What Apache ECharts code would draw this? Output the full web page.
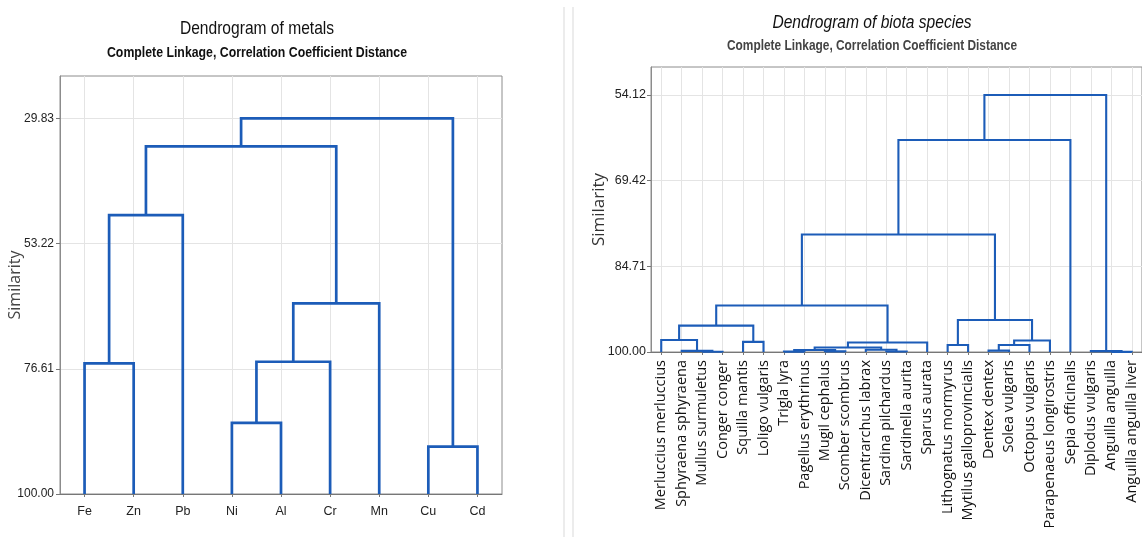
<!DOCTYPE html>
<html>
<head>
<meta charset="utf-8">
<script src="https://cdn.jsdelivr.net/npm/echarts@6/dist/echarts.min.js"></script>
<style>
  html, body { margin: 0; padding: 0; background: #ffffff; }
  #chart { width: 1142px; height: 537px; }
</style>
</head>
<body>
<div id="chart"></div>
<script>
// ---------- DATA ----------
// Metals dendrogram: leaf order and merges [nodeA, nodeB, similarity]
// (leaves are nodes 0..n-1, the k-th merge creates node n+k)
const metalLeaves = ['Fe', 'Zn', 'Pb', 'Ni', 'Al', 'Cr', 'Mn', 'Cu', 'Cd'];
const metalMerges = [
  [0, 1, 75.6],    // 9  Fe-Zn
  [9, 2, 47.9],    // 10 +Pb
  [3, 4, 86.7],    // 11 Ni-Al
  [11, 5, 75.3],   // 12 +Cr
  [12, 6, 64.4],   // 13 +Mn
  [10, 13, 35.06], // 14
  [7, 8, 91.16],   // 15 Cu-Cd
  [14, 15, 29.83]  // 16
];
const metalTicks = [29.83, 53.22, 76.61, 100.00];

// Biota species dendrogram
const speciesLeaves = [
  'Merluccius merluccius', 'Sphyraena sphyraena', 'Mullus surmuletus', 'Conger conger',
  'Squilla mantis', 'Loligo vulgaris', 'Trigla lyra', 'Pagellus erythrinus',
  'Mugil cephalus', 'Scomber scombrus', 'Dicentrarchus labrax', 'Sardina pilchardus',
  'Sardinella aurita', 'Sparus aurata', 'Lithognatus mormyrus', 'Mytilus galloprovincialis',
  'Dentex dentex', 'Solea vulgaris', 'Octopus vulgaris', 'Parapenaeus longirostris',
  'Sepia officinalis', 'Diplodus vulgaris', 'Anguilla anguilla', 'Anguilla anguilla liver'
];
const speciesMerges = [
  [2, 3, 99.95],   // 24 Mullus-Conger
  [1, 24, 99.8],   // 25 Sphyraena
  [0, 25, 97.85],  // 26 Merluccius
  [4, 5, 98.2],    // 27 Squilla-Loligo
  [26, 27, 95.3],  // 28
  [6, 7, 99.93],   // 29 Trigla-Pagellus
  [8, 9, 99.88],   // 30 Mugil-Scomber
  [29, 30, 99.65], // 31
  [11, 12, 99.9],  // 32 Sardina-Sardinella
  [10, 32, 99.6],  // 33 Dicentrarchus
  [31, 33, 99.2],  // 34
  [34, 13, 98.3],  // 35 Sparus
  [28, 35, 91.71], // 36
  [14, 15, 98.75], // 37 Lithognatus-Mytilus
  [16, 17, 99.75], // 38 Dentex-Solea
  [38, 18, 98.75], // 39 Octopus
  [39, 19, 97.95], // 40 Parapenaeus
  [37, 40, 94.3],  // 41
  [36, 41, 79.02], // 42
  [42, 20, 62.16], // 43 Sepia
  [22, 23, 99.97], // 44 Anguilla-liver
  [21, 44, 99.85], // 45 Diplodus
  [43, 45, 54.12]  // 46
];
const speciesTicks = [54.12, 69.42, 84.71, 100.00];

// ---------- BUILD ----------
function buildLinks(leaves, merges) {
  const pos = leaves.map((_, i) => i);
  const hgt = leaves.map(() => 100);
  const links = [];
  merges.forEach(([a, b, h]) => {
    links.push([pos[a], hgt[a], pos[b], hgt[b], h]);
    pos.push((pos[a] + pos[b]) / 2);
    hgt.push(h);
  });
  return links;
}
const metalLinks = buildLinks(metalLeaves, metalMerges);
const speciesLinks = buildLinks(speciesLeaves, speciesMerges);

const LINE = '#1c5cb8';
const SANS = "'Liberation Sans', Arial, sans-serif";
const idx = n => Array.from({ length: n }, (_, i) => i);

function makeRender(width) {
  return function (params, api) {
    const x1 = api.value(0), y1 = api.value(1), x2 = api.value(2), y2 = api.value(3), h = api.value(4);
    const pts = [
      api.coord([x1, y1]), api.coord([x1, h]),
      api.coord([x2, h]), api.coord([x2, y2])
    ];
    return {
      type: 'polyline',
      shape: { points: pts },
      style: { stroke: LINE, lineWidth: width, fill: null, lineJoin: 'miter' }
    };
  };
}

function titleText(x, y, text, font, fill) {
  return {
    type: 'text', x: x, y: y, scaleX: 0.82, scaleY: 1,
    style: { text: text, font: font, fill: fill, align: 'center', verticalAlign: 'middle', textAlign: 'center', textVerticalAlign: 'middle' },
    silent: true
  };
}

const chart = echarts.init(document.getElementById('chart'), null, { renderer: 'canvas' });

const option = {
  backgroundColor: '#ffffff',
  animation: false,
  graphic: [
    { type: 'rect', shape: { x: 563, y: 7, width: 2, height: 530 }, style: { fill: '#ececec' }, silent: true },
    { type: 'rect', shape: { x: 572, y: 7, width: 2, height: 530 }, style: { fill: '#ececec' }, silent: true },
    titleText(257, 29, 'Dendrogram of metals', '19px ' + SANS, '#111'),
    titleText(257, 53, 'Complete Linkage, Correlation Coefficient Distance', 'bold 15px ' + SANS, '#111'),
    titleText(872, 23, 'Dendrogram of biota species', 'italic 19px ' + SANS, '#111'),
    titleText(872, 46, 'Complete Linkage, Correlation Coefficient Distance', 'bold 14.5px ' + SANS, '#444')
  ],
  grid: [
    { left: 60, top: 76, width: 442, height: 418, show: true, borderColor: '#8c8c8c', borderWidth: 1, backgroundColor: '#fff' },
    { left: 651, top: 67, width: 494, height: 285, show: true, borderColor: '#8c8c8c', borderWidth: 1, backgroundColor: '#fff' }
  ],
  xAxis: [
    {
      type: 'value', gridIndex: 0, min: -0.5, max: metalLeaves.length - 0.5,
      axisLine: { show: true, onZero: false, lineStyle: { color: '#777' } },
      axisTick: { show: true, length: 3, customValues: idx(metalLeaves.length), lineStyle: { color: '#777' } },
      axisLabel: { customValues: idx(metalLeaves.length), formatter: v => metalLeaves[Math.round(v)], margin: 11, fontFamily: SANS, fontSize: 12.5, color: '#222' },
      splitLine: { show: true, lineStyle: { color: '#e4e4e4' } }
    },
    {
      type: 'value', gridIndex: 1, min: -0.5, max: speciesLeaves.length - 0.5,
      axisLine: { show: true, onZero: false, lineStyle: { color: '#777' } },
      axisTick: { show: true, length: 3, customValues: idx(speciesLeaves.length), lineStyle: { color: '#777' } },
      axisLabel: { customValues: idx(speciesLeaves.length), formatter: v => speciesLeaves[Math.round(v)], rotate: 90, margin: 8, fontFamily: "'Open Sans', sans-serif", fontSize: 14.5, color: '#111' },
      splitLine: { show: true, lineStyle: { color: '#e4e4e4' } }
    }
  ],
  yAxis: [
    {
      type: 'value', gridIndex: 0, inverse: true, min: 21.93, max: 100,
      name: 'Similarity', nameLocation: 'middle', nameGap: 37, nameRotate: 90, nameMoveOverlap: false,
      nameTextStyle: { fontFamily: "'Open Sans', sans-serif", fontSize: 16, color: '#444' },
      axisLine: { show: true, onZero: false, lineStyle: { color: '#8c8c8c' } },
      axisTick: { show: true, length: 4, customValues: metalTicks, lineStyle: { color: '#777' } },
      axisLabel: { customValues: metalTicks, formatter: v => v.toFixed(2), margin: 6, fontFamily: SANS, fontSize: 12, color: '#222' },
      splitLine: { show: true, lineStyle: { color: '#e4e4e4' } }
    },
    {
      type: 'value', gridIndex: 1, inverse: true, min: 49.12, max: 100,
      name: 'Similarity', nameLocation: 'middle', nameGap: 43, nameRotate: 90, nameMoveOverlap: false,
      nameTextStyle: { fontFamily: "'Open Sans', sans-serif", fontSize: 17, color: '#333' },
      axisLine: { show: true, onZero: false, lineStyle: { color: '#8c8c8c' } },
      axisTick: { show: true, length: 4, customValues: speciesTicks, lineStyle: { color: '#777' } },
      axisLabel: { customValues: speciesTicks, formatter: v => v.toFixed(2), margin: 5, fontFamily: SANS, fontSize: 12.5, color: '#222' },
      splitLine: { show: true, lineStyle: { color: '#e4e4e4' } }
    }
  ],
  series: [
    {
      type: 'custom', xAxisIndex: 0, yAxisIndex: 0,
      renderItem: makeRender(2.7),
      encode: { x: [0, 2], y: [1, 3, 4] },
      data: metalLinks, clip: false
    },
    {
      type: 'custom', xAxisIndex: 1, yAxisIndex: 1,
      renderItem: makeRender(2.1),
      encode: { x: [0, 2], y: [1, 3, 4] },
      data: speciesLinks, clip: false
    }
  ]
};
chart.setOption(option);
</script>
</body>
</html>
